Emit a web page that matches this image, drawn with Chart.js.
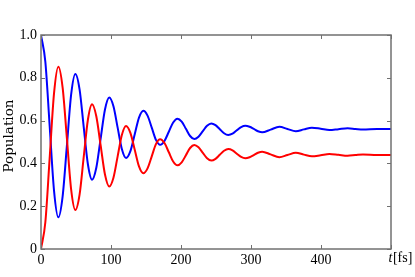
<!DOCTYPE html>
<html><head><meta charset="utf-8">
<script src="https://cdn.jsdelivr.net/npm/chart.js@4/dist/chart.umd.min.js"></script>
<style>html,body{margin:0;padding:0;background:#fff;}#wrap{width:415px;height:277px;}</style>
</head><body><div id="wrap"><canvas id="c" width="415" height="277"></canvas></div>
<script>
const times = [0,6.2,12.4,18.6,24.8,30.9,37.0,43.0,49.1,55.1,61.0,67.0,72.9,79.0,85.2,91.4,97.5,103.5,109.5,115.5,121.5,127.7,133.9,140.0,146.2,152.2,158.2,164.2,170.2,176.4,182.6,188.8,195,201,207,213,219,225,231.2,237.2,243.3,249.3,255.4,261.5,267.5,273.6,279.8,285.9,292,298,304,310,316,328,340.5,352,364,375.5,387,399.5,412,425,438,449,460,480,500];
const blueValues = [1.000,0.875,0.574,0.273,0.148,0.246,0.483,0.720,0.818,0.746,0.571,0.396,0.324,0.380,0.516,0.652,0.708,0.667,0.567,0.467,0.425,0.457,0.536,0.614,0.646,0.623,0.567,0.510,0.487,0.505,0.548,0.591,0.609,0.595,0.562,0.528,0.514,0.525,0.551,0.576,0.587,0.579,0.560,0.541,0.533,0.539,0.555,0.570,0.576,0.571,0.561,0.550,0.545,0.558,0.571,0.561,0.550,0.559,0.567,0.562,0.556,0.560,0.564,0.561,0.558,0.561,0.561];
const redValues = [0.000,0.125,0.426,0.727,0.852,0.754,0.517,0.280,0.182,0.254,0.429,0.604,0.676,0.620,0.484,0.348,0.292,0.333,0.433,0.533,0.575,0.543,0.464,0.386,0.354,0.377,0.433,0.490,0.513,0.495,0.452,0.409,0.391,0.405,0.438,0.472,0.486,0.475,0.449,0.424,0.413,0.421,0.440,0.459,0.467,0.461,0.445,0.430,0.424,0.429,0.439,0.450,0.455,0.442,0.429,0.439,0.450,0.441,0.433,0.438,0.444,0.440,0.436,0.439,0.442,0.439,0.439];
const xTicks = [0,100,200,300,400,500];
const xTickLabels = ['0','100','200','300','400',''];
const yTicks = [0,0.2,0.4,0.6,0.8,1.0];
const yTickLabels = ['0','0.2','0.4','0.6','0.8','1.0'];
const yTitle = 'Population';
const xUnitItalic = 't';
const xUnitRest = '[fs]';

const FONT = "'Liberation Serif', 'DejaVu Serif', serif";
const TITLE_FONT = "'DejaVu Serif', serif";
const frameColor = '#707070';

const framePlugin = {
  id: 'frame',
  afterDraw(chart) {
    const ctx = chart.ctx, a = chart.chartArea;
    const xs = chart.scales.x, ys = chart.scales.y;
    ctx.save();
    ctx.strokeStyle = frameColor;
    ctx.lineWidth = 1.5;
    ctx.strokeRect(a.left, a.top, a.right - a.left, a.bottom - a.top);
    ctx.lineWidth = 1;
    const L = 4;
    xTicks.forEach(v => {
      const px = Math.round(xs.getPixelForValue(v)) + 0.5;
      ctx.beginPath();
      ctx.moveTo(px, a.bottom); ctx.lineTo(px, a.bottom - L);
      ctx.moveTo(px, a.top); ctx.lineTo(px, a.top + L);
      ctx.stroke();
    });
    yTicks.forEach(v => {
      const py = Math.round(ys.getPixelForValue(v)) + 0.5;
      ctx.beginPath();
      ctx.moveTo(a.left, py); ctx.lineTo(a.left + L, py);
      ctx.moveTo(a.right, py); ctx.lineTo(a.right - L, py);
      ctx.stroke();
    });
    // x unit label at the last tick
    const px = xs.getPixelForValue(xTicks[xTicks.length - 1]);
    ctx.fillStyle = '#000';
    ctx.textBaseline = 'middle';
    ctx.textAlign = 'left';
    ctx.font = "italic 14px " + FONT;
    const w1 = ctx.measureText(xUnitItalic).width;
    const x0 = px - 2.5;
    ctx.fillText(xUnitItalic, x0, 258);
    ctx.font = "14px " + FONT;
    ctx.fillText(xUnitRest, x0 + w1 + 0.5, 258);
    // y axis title
    ctx.translate(9, 136);
    ctx.rotate(-Math.PI / 2);
    ctx.textAlign = 'center';
    ctx.font = "13.5px " + TITLE_FONT;
    ctx.fillText(yTitle, 0, 0);
    ctx.restore();
  }
};

const mk = (vals) => times.map((t, i) => ({x: t, y: vals[i]}));

new Chart(document.getElementById('c'), {
  type: 'line',
  data: {
    datasets: [
      {label: 'red', data: mk(redValues), borderColor: '#ff0000', borderWidth: 2, pointRadius: 0, cubicInterpolationMode: 'monotone', fill: false},
      {label: 'blue', data: mk(blueValues), borderColor: '#0000ff', borderWidth: 2, pointRadius: 0, cubicInterpolationMode: 'monotone', fill: false}
    ]
  },
  options: {
    responsive: false,
    animation: false,
    layout: {padding: {top: 35, right: 24, bottom: 0, left: 0}},
    plugins: {legend: {display: false}, tooltip: {enabled: false}},
    scales: {
      x: {
        type: 'linear', min: 0, max: 500,
        afterBuildTicks: s => { s.ticks = xTicks.map(v => ({value: v})); },
        afterFit: s => { s.height = 28; },
        grid: {display: false, drawTicks: false},
        border: {display: false},
        ticks: {
          padding: 3, color: '#000', font: {family: FONT, size: 14}, maxRotation: 0, autoSkip: false,
          callback: (v) => { const i = xTicks.indexOf(v); return i >= 0 ? xTickLabels[i] : ''; }
        }
      },
      y: {
        type: 'linear', min: 0, max: 1,
        afterBuildTicks: s => { s.ticks = yTicks.map(v => ({value: v})); },
        afterFit: s => { s.width = 41; },
        grid: {display: false, drawTicks: false},
        border: {display: false},
        ticks: {
          padding: 4, color: '#000', font: {family: FONT, size: 14}, autoSkip: false,
          callback: (v) => { const i = yTicks.findIndex(t => Math.abs(t - v) < 1e-9); return i >= 0 ? yTickLabels[i] : ''; }
        }
      }
    }
  },
  plugins: [framePlugin]
});
</script></body></html>
